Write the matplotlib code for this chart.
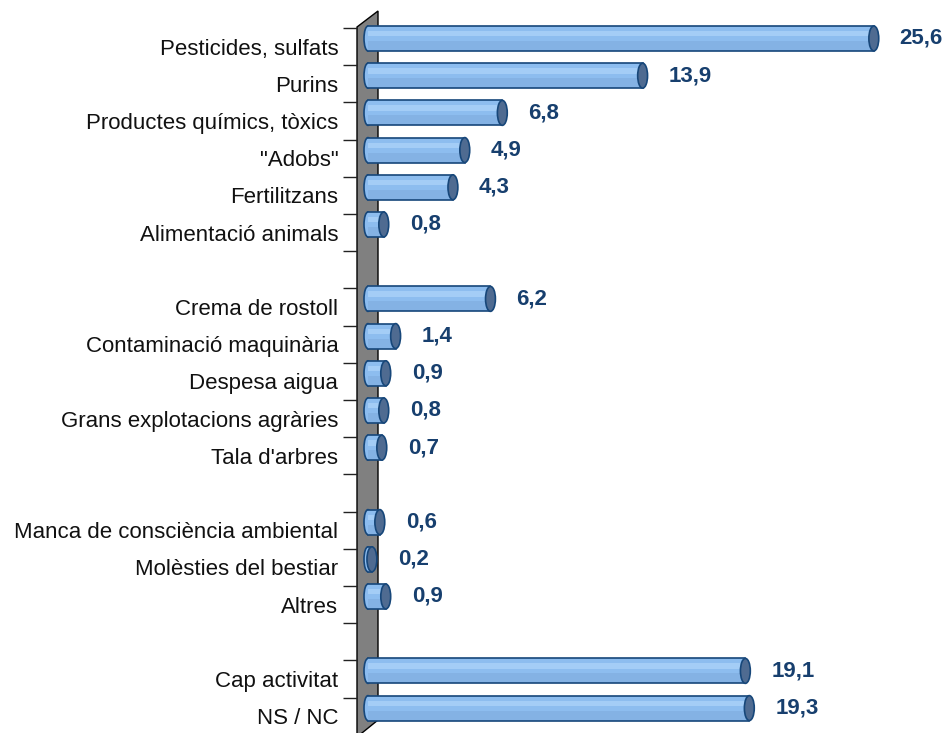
import numpy as np
import matplotlib
matplotlib.use('Agg')
import matplotlib.pyplot as plt
from matplotlib.patches import Ellipse, Rectangle, Polygon

# dades del gràfic (buits = separadors de grup)
categories = ['Pesticides, sulfats', 'Purins', 'Productes químics, tòxics', '"Adobs"',
              'Fertilitzans', 'Alimentació animals', '',
              'Crema de rostoll', 'Contaminació maquinària', 'Despesa aigua',
              'Grans explotacions agràries', "Tala d'arbres", '',
              'Manca de consciència ambiental', 'Molèsties del bestiar', 'Altres', '',
              'Cap activitat', 'NS / NC']
values = [25.6, 13.9, 6.8, 4.9, 4.3, 0.8, None,
          6.2, 1.4, 0.9, 0.8, 0.7, None,
          0.6, 0.2, 0.9, None,
          19.1, 19.3]

W, H = 946, 733
SC = 19.76  # píxels per unitat
plt.rcParams['font.family'] = ['Liberation Sans', 'DejaVu Sans']

fig = plt.figure(figsize=(W / 100, H / 100), dpi=100)
ax = fig.add_axes([357 / W, 0.0086, (W - 357) / W, 0.9643])
ax.set_xlim(-7 / SC, (W - 364) / SC)
ax.set_ylim(len(categories) - 0.5, -0.5)

def px(x, y):  # píxels -> fracció de figura
    return (x / W, 1 - y / H)

# paret gris lateral
wall = Polygon([px(357, 27), px(378, 11), px(378, 720), px(357, 737)], closed=True,
               facecolor='#808080', edgecolor='black', lw=1,
               transform=fig.transFigure, clip_on=False, zorder=0.5)
ax.add_patch(wall)

h = 0.67
cap_w = 0.5
edge = '#17477a'
for i, v in enumerate(values):
    if v is None:
        continue
    top = i - h / 2
    x0, x1 = 0.2, v + 0.2
    # extrem esquerre arrodonit
    ax.add_patch(Ellipse((x0, i), 0.4, h, facecolor='#8cbcef', edgecolor=edge, lw=1.2, zorder=2))
    # cos del cilindre amb franges de llum
    ax.add_patch(Rectangle((x0, top), v, h, facecolor='#8dbdef', edgecolor='none', zorder=3))
    ax.add_patch(Rectangle((x0, top + h * 0.2), v, h * 0.22, facecolor='#a4cdf6', edgecolor='none', zorder=3))
    ax.add_patch(Rectangle((x0, top + h * 0.6), v, h * 0.4, facecolor='#84b2e4', edgecolor='none', zorder=3))
    ax.plot([x0, x1], [top, top], color=edge, lw=1.2, zorder=4)
    ax.plot([x0, x1], [top + h, top + h], color=edge, lw=1.2, zorder=4)
    # tapa dreta
    ax.add_patch(Ellipse((x1, i), cap_w, h, facecolor='#4f6b91', edgecolor=edge, lw=1.2, zorder=5))
    ax.text(x1 + cap_w / 2 + 21 / SC, i, f'{v:.1f}'.replace('.', ','), ha='left', va='center',
            fontsize=16, fontweight='bold', color='#173f6e', zorder=6)

pos = np.arange(len(categories))
ax.set_yticks(pos + 0.22)
ax.set_yticklabels(categories, fontsize=16, color='#111111')
ax.set_yticks(pos - 0.28, minor=True)
ax.tick_params(axis='y', which='major', length=0, pad=13.5)
ax.tick_params(axis='y', which='minor', length=10, width=1, color='#222222', direction='out')
ax.set_xticks([])
for s in ax.spines.values():
    s.set_visible(False)
ax.patch.set_visible(False)

fig.savefig('out.png', dpi=100)
